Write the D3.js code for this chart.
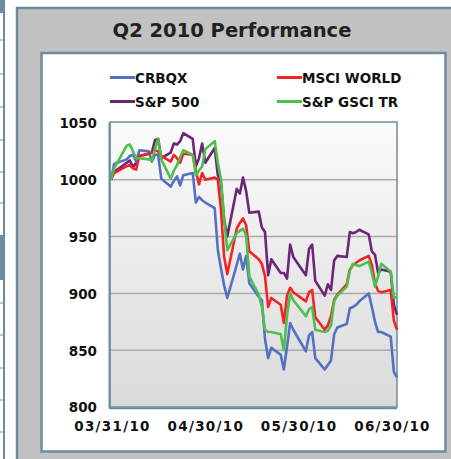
<!DOCTYPE html>
<html>
<head>
<meta charset="utf-8">
<script src="https://cdn.jsdelivr.net/npm/d3@7"></script>
<style>
  html, body { margin: 0; padding: 0; background: #fff; }
  svg { display: block; font-family: "DejaVu Sans", Verdana, sans-serif; font-weight: bold; }
</style>
</head>
<body>
<div id="viz"></div>
<script>
// trading days of Q2 2010 (plus the 03/31 base)
var dates = ["2010-03-31","2010-04-01","2010-04-05","2010-04-06","2010-04-07","2010-04-08","2010-04-09",
  "2010-04-12","2010-04-13","2010-04-14","2010-04-15","2010-04-16","2010-04-19","2010-04-20","2010-04-21",
  "2010-04-22","2010-04-23","2010-04-26","2010-04-27","2010-04-28","2010-04-29","2010-04-30","2010-05-03",
  "2010-05-04","2010-05-05","2010-05-06","2010-05-07","2010-05-10","2010-05-11","2010-05-12","2010-05-13",
  "2010-05-14","2010-05-17","2010-05-18","2010-05-19","2010-05-20","2010-05-21","2010-05-24","2010-05-25",
  "2010-05-26","2010-05-27","2010-05-28","2010-06-01","2010-06-02","2010-06-03","2010-06-04","2010-06-07",
  "2010-06-08","2010-06-09","2010-06-10","2010-06-11","2010-06-14","2010-06-15","2010-06-16","2010-06-17",
  "2010-06-18","2010-06-21","2010-06-22","2010-06-23","2010-06-24","2010-06-25","2010-06-28","2010-06-29",
  "2010-06-30"];

var crbqx = [1000,1014,1018,1021,1022,1016,1026,1025,1016,1022,1022,1001,994,999,1003,995,1004,1006,980,985,
  982,980,975,938,922,907,896,925,935,921,933,909,897,894,860,843,852,846,833,853,874,868,849,863,866,843,
  833,837,841,864,870,873,887,888,890,893,900,888,875,866,866,862,831,826];
var msciWorld = [1000,1006,1012,1013,1010,1009,1021,1023,1024,1026,1025,1021,1016,1022,1019,1015,1023,1022,
  1008,996,1006,1000,1002,1000,973,932,917,957,962,966,960,937,930,926,915,888,896,890,874,898,905,901,893,
  901,903,879,868,872,880,894,899,908,921,925,927,929,933,925,909,902,901,903,876,868];
var sp500 = [1000,1007,1015,1017,1011,1015,1021,1023,1024,1035,1036,1019,1024,1032,1031,1034,1041,1036,1012,
  1019,1032,1015,1028,1004,997,965,950,992,988,1002,990,971,972,958,954,916,930,918,918,913,943,932,916,939,
  943,911,898,908,903,929,933,932,954,953,954,956,952,937,934,918,921,919,890,881];
var gsciTR = [1000,1010,1030,1031,1025,1019,1019,1018,1017,1027,1036,1018,1001,1008,1013,1020,1026,1022,1004,
  1008,1012,1027,1034,1015,1000,965,938,953,955,957,951,915,899,888,868,866,866,864,850,880,900,894,880,886,
  888,868,866,867,872,893,898,906,920,926,925,924,928,918,906,915,926,919,896,897];

var seriesNames = ["CRBQX", "MSCI WORLD", "S&P 500", "S&P GSCI TR"];
var yTicks = [800, 850, 900, 950, 1000, 1050];
var xLabels = ["03/31/10", "04/30/10", "05/30/10", "06/30/10"];

var W = 451, H = 459;
var parse = d3.timeParse("%Y-%m-%d");
var border = "#6a8da0";

var svg = d3.select("#viz").append("svg")
  .attr("width", W).attr("height", H);

// cut-off table at the far left of the page
var strip = svg.append("g");
strip.append("rect").attr("x", 0).attr("y", 0).attr("width", 5).attr("height", 13).attr("fill", border);
strip.append("rect").attr("x", 0).attr("y", 235).attr("width", 5).attr("height", 45).attr("fill", border);
strip.append("line").attr("x1", 4).attr("x2", 4).attr("y1", 0).attr("y2", H)
  .attr("stroke", border).attr("stroke-width", 2);
[40, 74, 107, 140, 172, 203, 303, 335, 368, 400, 432].forEach(function(y) {
  strip.append("line").attr("x1", 0).attr("x2", 4).attr("y1", y).attr("y2", y)
    .attr("stroke", border).attr("stroke-width", 1);
});

// gray frame and white card
svg.append("rect").attr("x", 17).attr("y", 8).attr("width", 460).attr("height", 470)
  .attr("fill", "#c2c2c2").attr("stroke", border).attr("stroke-width", 2.5);
svg.append("rect").attr("x", 41.5).attr("y", 53).attr("width", 404).attr("height", 398.5)
  .attr("fill", "#fff").attr("stroke", border).attr("stroke-width", 2.5);

svg.append("text").attr("x", 232).attr("y", 36.5).attr("text-anchor", "middle")
  .style("font-size", "19.5px").attr("fill", "#231f20").text("Q2 2010 Performance");

// plot area
var margin = {left: 111, right: 397, top: 123, bottom: 407};
var x = d3.scaleTime()
  .domain([parse(dates[0]), parse(dates[dates.length - 1])])
  .range([margin.left, margin.right]);
var y = d3.scaleLinear().domain([800, 1050]).range([margin.bottom, margin.top]);

var defs = svg.append("defs");
var grad = defs.append("linearGradient").attr("id", "bg").attr("x1", 0).attr("x2", 0).attr("y1", 0).attr("y2", 1);
grad.append("stop").attr("offset", "0%").attr("stop-color", "#fbfbfb");
grad.append("stop").attr("offset", "100%").attr("stop-color", "#dadada");

svg.append("rect").attr("x", margin.left - 1).attr("y", margin.top)
  .attr("width", margin.right - margin.left + 1).attr("height", margin.bottom - margin.top)
  .attr("fill", "url(#bg)");

svg.append("g").selectAll("line")
  .data(yTicks.filter(function(d) { return d > 800 && d < 1050; }))
  .join("line")
  .attr("x1", margin.left).attr("x2", margin.right)
  .attr("y1", function(d) { return y(d); }).attr("y2", function(d) { return y(d); })
  .attr("stroke", "#a9a9a9").attr("stroke-width", 1.5);

svg.append("rect").attr("x", margin.left - 1).attr("y", margin.top - 1)
  .attr("width", margin.right - margin.left + 1).attr("height", margin.bottom - margin.top + 1)
  .attr("fill", "none").attr("stroke", border).attr("stroke-width", 1.5);
svg.append("line").attr("x1", margin.left - 1.5).attr("x2", margin.left - 1.5)
  .attr("y1", margin.top).attr("y2", margin.bottom + 1).attr("stroke", border).attr("stroke-width", 2);
svg.append("line").attr("x1", margin.left - 2).attr("x2", margin.right)
  .attr("y1", margin.bottom + 1.2).attr("y2", margin.bottom + 1.2).attr("stroke", border).attr("stroke-width", 2);

// y axis
var yAxis = svg.append("g")
  .attr("transform", "translate(" + (margin.left - 1) + ",0)")
  .call(d3.axisLeft(y).tickValues(yTicks).tickSize(0).tickPadding(13).tickFormat(d3.format("d")));
yAxis.select(".domain").remove();
yAxis.selectAll("text").style("font-size", "13.5px").style("font-family", "DejaVu Sans")
  .style("font-weight", "bold").attr("fill", "#111").attr("dy", "0.36em");

// x axis labels
var xLab = d3.scalePoint().domain(xLabels).range([112, 392]);
var xAxis = svg.append("g")
  .attr("transform", "translate(0,421)")
  .call(d3.axisBottom(xLab).tickSize(0).tickPadding(0));
xAxis.select(".domain").remove();
xAxis.selectAll("text").style("font-size", "13.5px").style("font-family", "DejaVu Sans")
  .style("font-weight", "bold").style("letter-spacing", "1.3px").attr("fill", "#111");

// series
var colors = ["#5470c2", "#f42323", "#6c2677", "#4cbf4c"];
var allSeries = [crbqx, msciWorld, sp500, gsciTR];
var drawOrder = [2, 0, 1, 3];
var line = d3.line()
  .x(function(d) { return x(d.date); })
  .y(function(d) { return y(d.value); });

drawOrder.forEach(function(i) {
  var pts = dates.map(function(d, k) { return {date: parse(d), value: allSeries[i][k]}; });
  svg.append("path").datum(pts)
    .attr("fill", "none")
    .attr("stroke", colors[i])
    .attr("stroke-width", 2.6)
    .attr("stroke-linejoin", "round")
    .attr("d", line);
});

// legend
var legendPos = [[110, 77.5], [277, 77.5], [110, 101.5], [277, 101.5]];
seriesNames.forEach(function(name, i) {
  var g = svg.append("g").attr("transform", "translate(" + legendPos[i][0] + "," + legendPos[i][1] + ")");
  g.append("line").attr("x1", 0).attr("x2", 25).attr("y1", 0).attr("y2", 0)
    .attr("stroke", colors[i]).attr("stroke-width", 3);
  g.append("text").attr("x", 25).attr("y", 5).style("font-size", "13.5px").attr("fill", "#111").text(name);
});
</script>
</body>
</html>
